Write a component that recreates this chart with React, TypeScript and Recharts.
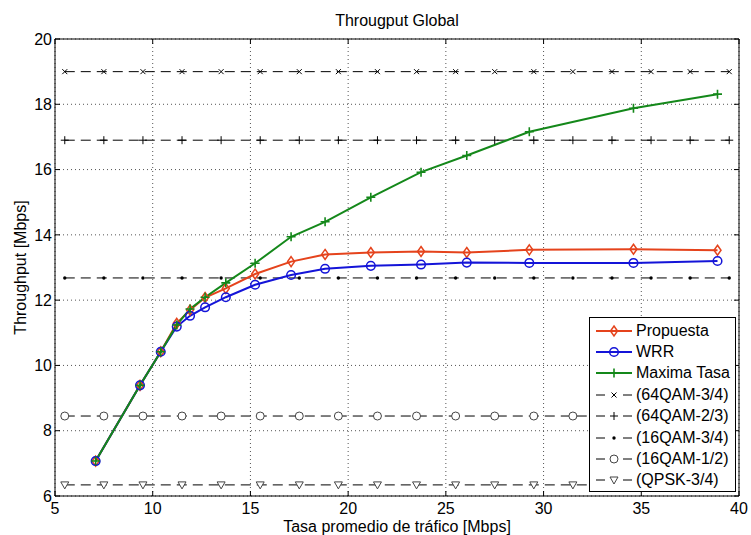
import { CartesianGrid, Legend, Line, LineChart, ReferenceLine, XAxis, YAxis } from "recharts";

// x: tasa promedio de tráfico [Mbps], compartida por las tres curvas
const trafico = [7.08, 9.35, 10.41, 11.23, 11.91, 12.68, 13.74, 15.24, 17.08, 18.82, 21.16, 23.73, 26.07, 29.27, 34.6, 38.9];
const propuesta = [7.07, 9.39, 10.42, 11.29, 11.7, 12.08, 12.36, 12.8, 13.18, 13.4, 13.46, 13.49, 13.46, 13.54, 13.56, 13.53];
const wrr = [7.07, 9.39, 10.42, 11.19, 11.52, 11.78, 12.09, 12.47, 12.77, 12.96, 13.05, 13.09, 13.15, 13.14, 13.14, 13.2];
const maximaTasa = [7.07, 9.39, 10.42, 11.24, 11.73, 12.09, 12.53, 13.13, 13.94, 14.4, 15.15, 15.92, 16.43, 17.16, 17.88, 18.31];
const nombresSeries = ["Propuesta", "WRR", "Maxima Tasa"];

// límites teóricos por modulación
const modulaciones = ["(64QAM-3/4)", "(64QAM-2/3)", "(16QAM-3/4)", "(16QAM-1/2)", "(QPSK-3/4)"];
const niveles = [19.0, 16.9, 12.68, 8.45, 6.34];
const marcasX = [5.5, 7.5, 9.5, 11.5, 13.5, 15.5, 17.5, 19.5, 21.5, 23.5, 25.5, 27.5, 29.5, 31.5, 33.5, 35.5, 37.5, 39.5];

const xTicks = [5, 10, 15, 20, 25, 30, 35, 40];
const yTicks = [6, 8, 10, 12, 14, 16, 18, 20];

const FONT = '"Liberation Sans", Arial, Helvetica, sans-serif';
const PLOT_W = 684;
const PLOT_H = 457;

type MarkerKind = "diamond" | "circle" | "plus" | "cross" | "dot" | "ring" | "triangle" | "plusThin";

const serieStyles: { color: string; marker: MarkerKind }[] = [
  { color: "#e5431c", marker: "diamond" },
  { color: "#1414d8", marker: "circle" },
  { color: "#14881a", marker: "plus" },
];
const modStyles: MarkerKind[] = ["cross", "plusThin", "dot", "ring", "triangle"];

function Marker({ kind, cx, cy, color }: { kind: MarkerKind; cx: number; cy: number; color: string }) {
  if (cx == null || cy == null) return null;
  switch (kind) {
    case "diamond":
      return <path d={`M${cx},${cy - 5}L${cx + 3.5},${cy}L${cx},${cy + 5}L${cx - 3.5},${cy}Z`} fill="none" stroke={color} strokeWidth={1.5} />;
    case "circle":
      return <circle cx={cx} cy={cy} r={4.3} fill="none" stroke={color} strokeWidth={1.5} />;
    case "plus":
      return <path d={`M${cx - 4.5},${cy}H${cx + 4.5}M${cx},${cy - 4.5}V${cy + 4.5}`} stroke={color} strokeWidth={1.6} />;
    case "plusThin":
      return <path d={`M${cx - 4},${cy}H${cx + 4}M${cx},${cy - 4}V${cy + 4}`} stroke={color} strokeWidth={1} />;
    case "cross":
      return <path d={`M${cx - 2.5},${cy - 2.5}L${cx + 2.5},${cy + 2.5}M${cx - 2.5},${cy + 2.5}L${cx + 2.5},${cy - 2.5}`} stroke={color} strokeWidth={1} />;
    case "dot":
      return <circle cx={cx} cy={cy} r={1.7} fill={color} />;
    case "ring":
      return <circle cx={cx} cy={cy} r={4} fill="#fff" stroke="#444" strokeWidth={1} />;
    case "triangle":
      return <path d={`M${cx - 4},${cy - 3}L${cx + 4},${cy - 3}L${cx},${cy + 4}Z`} fill="#fff" stroke="#444" strokeWidth={1} />;
  }
  return null;
}

const dotFor = (kind: MarkerKind, color: string) => (p: any) =>
  <Marker key={`m-${p.index}`} kind={kind} cx={p.cx} cy={p.cy} color={color} />;

function XTick(props: any) {
  const { x, y, payload } = props;
  return (
    <g>
      <line x1={x} y1={y} x2={x} y2={y - 5} stroke="#000" />
      <line x1={x} y1={y - PLOT_H} x2={x} y2={y - PLOT_H + 5} stroke="#000" />
      <text x={x} y={y + 17.5} textAnchor="middle" fontSize={16} fontFamily={FONT} fill="#000">
        {payload.value}
      </text>
    </g>
  );
}

function YTick(props: any) {
  const { x, y, payload } = props;
  return (
    <g>
      <line x1={x} y1={y} x2={x + 5} y2={y} stroke="#000" />
      <line x1={x + PLOT_W} y1={y} x2={x + PLOT_W - 5} y2={y} stroke="#000" />
      <text x={x - 3} y={y} dy="0.36em" textAnchor="end" fontSize={16} fontFamily={FONT} fill="#000">
        {payload.value}
      </text>
    </g>
  );
}

function LegendSample({ kind, color, dashed }: { kind: MarkerKind; color: string; dashed: boolean }) {
  return (
    <svg width={37} height={14} style={{ display: "block", flex: "none" }}>
      {dashed ? (
        <>
          <line x1={0} y1={7} x2={9} y2={7} stroke="#000" />
          <line x1={27} y1={7} x2={36} y2={7} stroke="#000" />
        </>
      ) : (
        <line x1={0} y1={7} x2={36} y2={7} stroke={color} strokeWidth={2} />
      )}
      <Marker kind={kind} cx={18} cy={7} color={color} />
    </svg>
  );
}

function LeyendaContent() {
  const rows = [
    ...nombresSeries.map((n, i) => ({ label: n, kind: serieStyles[i].marker, color: serieStyles[i].color, dashed: false })),
    ...modulaciones.map((n, i) => ({ label: n, kind: modStyles[i], color: "#000", dashed: true })),
  ];
  return (
    <div style={{ paddingTop: 2, paddingLeft: 6 }}>
      {rows.map((r) => (
        <div key={r.label} style={{ display: "flex", alignItems: "center", height: 21.4 }}>
          <LegendSample kind={r.kind} color={r.color} dashed={r.dashed} />
          <span style={{ fontFamily: FONT, fontSize: 16, color: "#000", marginLeft: 3, whiteSpace: "nowrap" }}>{r.label}</span>
        </div>
      ))}
    </div>
  );
}

export default function App() {
  const curvas = [propuesta, wrr, maximaTasa].map((serie) => trafico.map((x, i) => ({ x, y: serie[i] })));
  const limites = niveles.map((nivel) => marcasX.map((x) => ({ x, y: nivel })));

  return (
    <div style={{ position: "absolute", left: 0, top: 0, width: 751, height: 535, background: "#fff" }}>
      <div
        style={{
          position: "absolute",
          left: 55,
          width: PLOT_W,
          top: 13,
          textAlign: "center",
          fontFamily: FONT,
          fontSize: 16,
          lineHeight: "16px",
          color: "#000",
        }}
      >
        Througput Global
      </div>
      <LineChart width={751} height={535} margin={{ top: 39, right: 12, bottom: 0, left: 0 }}>
        <CartesianGrid stroke="#555" strokeDasharray="1 3" />
        <XAxis
          type="number"
          dataKey="x"
          domain={[5, 40]}
          ticks={xTicks}
          allowDataOverflow
          height={39}
          tickSize={0}
          tickMargin={0}
          tickLine={false}
          tick={<XTick />}
          stroke="#000"
          label={{
            content: (p: any) => (
              <text
                x={p.viewBox.x + p.viewBox.width / 2}
                y={532}
                textAnchor="middle"
                fontSize={16}
                fontFamily={FONT}
                fill="#000"
              >
                Tasa promedio de tráfico [Mbps]
              </text>
            ),
          }}
        />
        <YAxis
          type="number"
          domain={[6, 20]}
          ticks={yTicks}
          allowDataOverflow
          width={55}
          tickSize={0}
          tickMargin={0}
          tickLine={false}
          tick={<YTick />}
          stroke="#000"
          label={{
            content: (p: any) => {
              const cx = 20;
              const cy = p.viewBox.y + p.viewBox.height / 2;
              return (
                <text
                  x={cx}
                  y={cy}
                  dy="0.36em"
                  transform={`rotate(-90 ${cx} ${cy})`}
                  textAnchor="middle"
                  fontSize={16}
                  fontFamily={FONT}
                  fill="#000"
                >
                  Throughput [Mbps]
                </text>
              );
            },
          }}
        />
        <ReferenceLine y={20} stroke="#000" />
        <ReferenceLine x={40} stroke="#000" />
        {limites.map((d, i) => (
          <Line
            key={modulaciones[i]}
            data={d}
            dataKey="y"
            name={modulaciones[i]}
            stroke="#000"
            strokeWidth={1}
            strokeDasharray="10 6"
            dot={dotFor(modStyles[i], "#000")}
            activeDot={false}
            isAnimationActive={false}
          />
        ))}
        {curvas.map((d, i) => (
          <Line
            key={nombresSeries[i]}
            data={d}
            dataKey="y"
            name={nombresSeries[i]}
            stroke={serieStyles[i].color}
            strokeWidth={2}
            dot={dotFor(serieStyles[i].marker, serieStyles[i].color)}
            activeDot={false}
            isAnimationActive={false}
          />
        ))}
        <Legend
          layout="vertical"
          align="center"
          verticalAlign="middle"
          content={<LeyendaContent />}
          wrapperStyle={{
            left: 589,
            top: 317,
            width: 147,
            height: 175,
            border: "1px solid #000",
            background: "#fff",
            boxSizing: "border-box",
          }}
        />
      </LineChart>
    </div>
  );
}
